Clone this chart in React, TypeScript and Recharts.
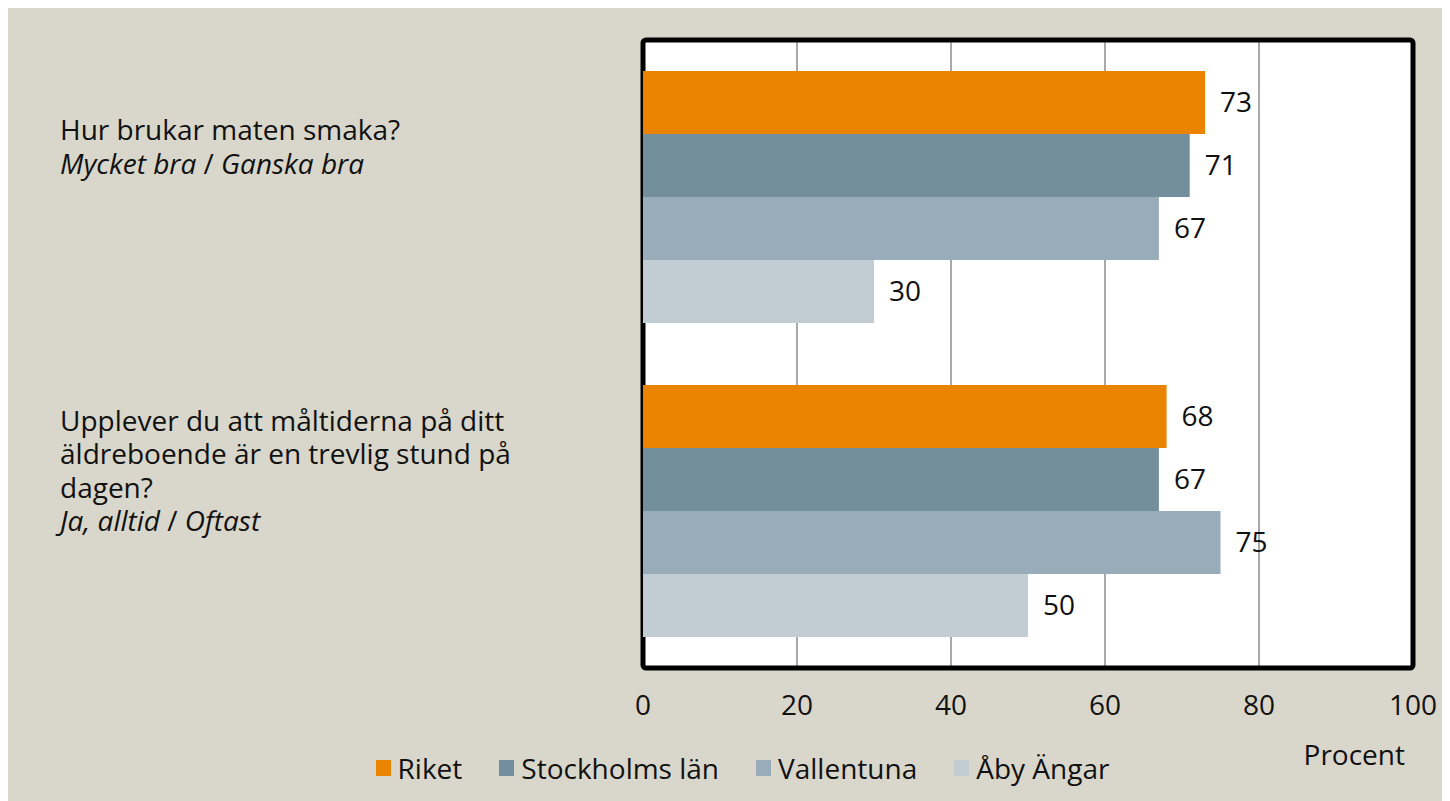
import React from 'react';
import {
  BarChart,
  Bar,
  XAxis,
  YAxis,
  CartesianGrid,
  Legend,
  LabelList,
  ReferenceArea,
  Label,
} from 'recharts';

const categories = ['Hur brukar maten smaka?', 'Upplever du att måltiderna'];
const questionLines = [
  ['Hur brukar maten smaka?'],
  ['Upplever du att måltiderna på ditt', 'äldreboende är en trevlig stund på', 'dagen?'],
];
const answerParts = [
  ['Mycket bra', 'Ganska bra'],
  ['Ja, alltid', 'Oftast'],
];
const seriesNames = ['Riket', 'Stockholms län', 'Vallentuna', 'Åby Ängar'];
const riket = [73, 68];
const stockholm = [71, 67];
const vallentuna = [67, 75];
const abyAngar = [30, 50];
const xTicks = [0, 20, 40, 60, 80, 100];
const colors = ['#E98300', '#738F9D', '#98ADB9', '#C2CDD3'];

const FONT = '"Open Sans", sans-serif';
const FS = 28;
const LINE_H = 33.5;

const seriesValues = [riket, stockholm, vallentuna, abyAngar];
const data = categories.map((category, i) => {
  const row: Record<string, string | number> = { category };
  seriesNames.forEach((name, s) => {
    row[name] = seriesValues[s][i];
  });
  return row;
});

// multi-line question + italic answer alternatives
const CategoryTick = (props: any) => {
  const { y, payload } = props;
  const idx = categories.indexOf(payload.value);
  const lines = questionLines[idx];
  const n = lines.length + 1;
  const first = y - 50 + 5 * n - ((n - 1) / 2) * LINE_H;
  const left = 52;
  return (
    <text fontFamily={FONT} fontSize={FS} fill="#111">
      {lines.map((l, k) => (
        <tspan key={k} x={left} y={first + k * LINE_H}>
          {l}
        </tspan>
      ))}
      <tspan x={left} y={first + lines.length * LINE_H} fontStyle="italic">
        {answerParts[idx][0]}
      </tspan>
      <tspan> / </tspan>
      <tspan fontStyle="italic">{answerParts[idx][1]}</tspan>
    </text>
  );
};

const ValueTick = (props: any) => {
  const { x, y, payload } = props;
  return (
    <text x={x} y={y + 39} textAnchor="middle" fontFamily={FONT} fontSize={FS} fill="#111">
      {payload.value}
    </text>
  );
};

const LegendContent = () => (
  <div
    style={{
      display: 'flex',
      justifyContent: 'center',
      alignItems: 'center',
      height: 40,
      paddingLeft: 64,
      fontFamily: FONT,
      fontSize: FS,
      color: '#111',
    }}
  >
    {seriesNames.map((name, i) => (
      <div key={name} style={{ display: 'flex', alignItems: 'center', marginRight: i < seriesNames.length - 1 ? 37 : 0 }}>
        <span style={{ width: 15, height: 16, background: colors[i], display: 'inline-block', marginRight: 7 }} />
        <span>{name}</span>
      </div>
    ))}
  </div>
);

const ProcentLabel = (props: any) => {
  const { viewBox } = props;
  return (
    <text
      x={viewBox.x + viewBox.width - 8}
      y={viewBox.y + 97}
      textAnchor="end"
      fontFamily={FONT}
      fontSize={FS}
      fill="#111"
    >
      Procent
    </text>
  );
};

export default function App() {
  return (
    <div style={{ width: 1442, height: 793, background: '#D9D7CB' }}>
      <BarChart
        width={1442}
        height={793}
        data={data}
        layout="vertical"
        margin={{ top: 32, right: 37, left: 0, bottom: 13 }}
        barCategoryGap={31}
        barGap={0}
      >
        <CartesianGrid horizontal={false} fill="#FFFFFF" stroke="#8C8C8C" strokeWidth={1.5} />
        <ReferenceArea
          x1={0}
          x2={100}
          fill="none"
          stroke="#000"
          strokeWidth={5}
          radius={3}
          ifOverflow="visible"
        />
        <XAxis
          type="number"
          domain={[0, 100]}
          ticks={xTicks}
          height={80}
          tickLine={false}
          axisLine={false}
          tick={<ValueTick />}
          interval={0}
        >
          <Label content={<ProcentLabel />} />
        </XAxis>
        <YAxis
          type="category"
          dataKey="category"
          width={635}
          tickLine={false}
          axisLine={false}
          tick={<CategoryTick />}
        />
        <Legend verticalAlign="bottom" height={40} content={<LegendContent />} />
        {seriesNames.map((name, i) => (
          <Bar key={name} dataKey={name} fill={colors[i]} isAnimationActive={false}>
            <LabelList
              dataKey={name}
              position="right"
              offset={15}
              fontFamily={FONT}
              fontSize={FS}
              fill="#111"
            />
          </Bar>
        ))}
      </BarChart>
    </div>
  );
}
